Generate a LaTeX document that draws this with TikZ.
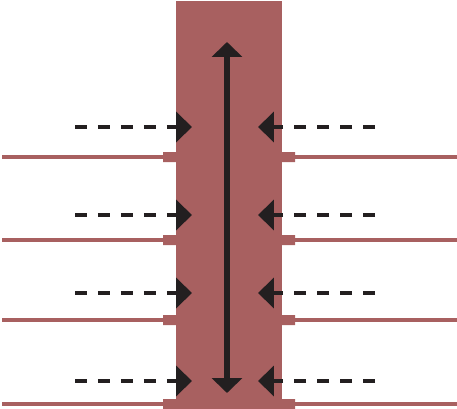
\documentclass[tikz,border=0pt]{standalone}
\usetikzlibrary{arrows.meta}
\definecolor{wall}{RGB}{168,96,96}
\definecolor{ink}{RGB}{35,31,32}
\begin{document}
\begin{tikzpicture}[x=0.02cm, y=-0.02cm, >={Triangle[length=0.32cm,width=0.6cm]}]
    \useasboundingbox (0,0) rectangle (457,409);
    \fill[wall](176,1)rectangle(282,409);
    \foreach \l/\a in {157/127,240/215,320/293,404/381}{
        \draw[wall,line width=2.8pt](2,\l)--(176,\l) (282,\l)--(457,\l);
        \fill[wall](163,\l-5)rectangle(176,\l+5) (282,\l-5)rectangle(295,\l+5);
        \draw[->,ink,line width=2.8pt,dash pattern=on 0.24cm off 0.22cm](75,\a)--(192,\a);
        \draw[->,ink,line width=2.8pt,dash pattern=on 0.24cm off 0.22cm](375,\a)--(258,\a);
    }
    \draw[<->,ink,line width=3.4pt,>={Triangle[length=0.3cm,width=0.6cm]}](227,42)--(227,393);
\end{tikzpicture}
\end{document}
